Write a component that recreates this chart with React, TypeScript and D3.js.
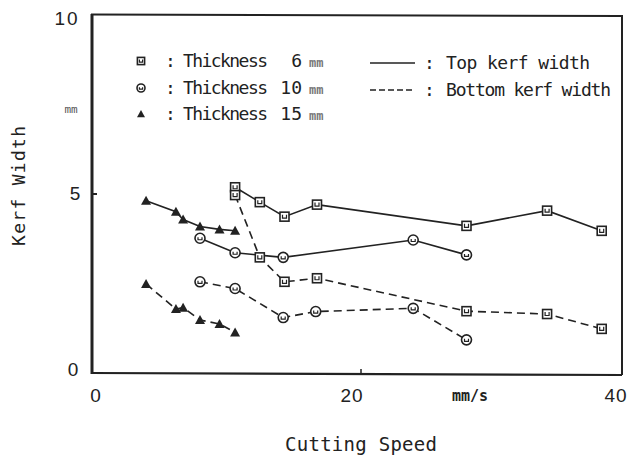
import React, { useRef, useEffect } from "react";
import { select, scaleLinear, line } from "d3";

// values
const speed6 = [10.7, 12.6, 14.5, 17.0, 28.5, 34.7, 38.9];
const top6 = [5.19, 4.77, 4.36, 4.7, 4.1, 4.53, 3.96];
const bottom6 = [4.97, 3.21, 2.52, 2.62, 1.69, 1.61, 1.19];
const speed10Top = [8.0, 10.7, 14.4, 24.4, 28.5];
const top10 = [3.75, 3.34, 3.21, 3.7, 3.28];
const speed10Bottom = [8.0, 10.7, 14.4, 16.9, 24.4, 28.5];
const bottom10 = [2.52, 2.33, 1.51, 1.68, 1.77, 0.88];
const speed15 = [3.85, 6.15, 6.7, 8.0, 9.5, 10.7];
const top15 = [4.81, 4.5, 4.28, 4.08, 4.0, 3.96];
const bottom15 = [2.46, 1.75, 1.79, 1.44, 1.33, 1.09];
const xTicks = [0, 20, 40];
const yTicks = [0, 5, 10];

const legendRows = ["6", "10", "15"];

const W = 627;
const H = 457;
const FONT = "'DejaVu Sans Mono', monospace";
const SANS = "'Liberation Sans', Arial, sans-serif";
const INK = "#222";

const App: React.FC = () => {
  const svgRef = useRef<SVGSVGElement>(null);

  useEffect(() => {
    const svg = select(svgRef.current);
    svg.selectAll("*").remove();

    const x = scaleLinear().domain([0, 40]).range([96, 616]);
    const y = scaleLinear().domain([0, 10]).range([371, 17]);

    // frame
    svg.append("line").attr("x1", 92).attr("x2", 92).attr("y1", 14).attr("y2", 374)
      .attr("stroke", INK).attr("stroke-width", 3);
    svg.append("line").attr("x1", 91).attr("x2", 622).attr("y1", 373).attr("y2", 375)
      .attr("stroke", INK).attr("stroke-width", 2.2);
    svg.append("line").attr("x1", 91).attr("x2", 622).attr("y1", 14.5).attr("y2", 16)
      .attr("stroke", INK).attr("stroke-width", 2);
    svg.append("line").attr("x1", 622).attr("x2", 622).attr("y1", 15).attr("y2", 375)
      .attr("stroke", INK).attr("stroke-width", 2);

    // small inner ticks
    svg.append("line").attr("x1", 92).attr("x2", 97).attr("y1", y(5)).attr("y2", y(5))
      .attr("stroke", INK).attr("stroke-width", 2);
    svg.append("line").attr("x1", x(20) + 5).attr("x2", x(20) + 5).attr("y1", 374).attr("y2", 369)
      .attr("stroke", INK).attr("stroke-width", 1.5);

    // tick labels
    const yl = [{ tx: 74, ty: 376 }, { tx: 76, ty: 200 }, { tx: 67, ty: 25 }];
    yTicks.forEach((v, i) => {
      svg.append("text").attr("x", yl[i].tx).attr("y", yl[i].ty)
        .attr("font-family", SANS).attr("font-size", 19).attr("letter-spacing", 2)
        .attr("fill", INK).attr("text-anchor", "middle").text(v);
    });
    xTicks.forEach((v) => {
      svg.append("text").attr("x", x(v) - (v === 20 ? 4 : 0)).attr("y", 402)
        .attr("font-family", SANS).attr("font-size", 19).attr("letter-spacing", 1)
        .attr("fill", INK).attr("text-anchor", "middle").text(v);
    });

    // units and axis titles
    svg.append("text").attr("x", 71).attr("y", 113).attr("font-family", FONT)
      .attr("font-size", 11).attr("fill", "#555").attr("text-anchor", "middle").text("mm");
    svg.append("text").attr("x", 470).attr("y", 401).attr("font-family", FONT)
      .attr("font-size", 15).attr("font-weight", "bold").attr("fill", INK)
      .attr("text-anchor", "middle").text("mm/s");
    svg.append("text").attr("x", 285).attr("y", 451).attr("font-family", FONT)
      .attr("font-size", 19).attr("fill", INK).attr("textLength", 152)
      .text("Cutting Speed");
    svg.append("text").attr("transform", "translate(25,186) rotate(-90)").attr("font-family", FONT)
      .attr("font-size", 18).attr("fill", INK).attr("text-anchor", "middle")
      .attr("textLength", 120).text("Kerf Width");

    const path = line<[number, number]>().x((d) => x(d[0])).y((d) => y(d[1]));
    const zip = (a: number[], b: number[]) => a.map((v, i) => [v, b[i]] as [number, number]);

    const series = [
      { xs: speed6, ys: top6, dash: null, m: "square" },
      { xs: speed6, ys: bottom6, dash: "8,5", m: "square" },
      { xs: speed10Top, ys: top10, dash: null, m: "circle" },
      { xs: speed10Bottom, ys: bottom10, dash: "8,5", m: "circle" },
      { xs: speed15, ys: top15, dash: null, m: "triangle" },
      { xs: speed15, ys: bottom15, dash: "8,5", m: "triangle" },
    ];

    const drawMarker = (g: any, m: string, cx: number, cy: number, s = 1) => {
      if (m === "square") {
        const h = 4.5 * s;
        g.append("rect").attr("x", cx - h).attr("y", cy - h).attr("width", 2 * h).attr("height", 2 * h)
          .attr("fill", "white").attr("stroke", INK).attr("stroke-width", 1.6);
        g.append("path").attr("d", `M${cx - 2 * s},${cy - 2 * s}V${cy + 1.5 * s}H${cx + 2 * s}V${cy - 2 * s}`)
          .attr("fill", "none").attr("stroke", INK).attr("stroke-width", 1.2);
      } else if (m === "circle") {
        g.append("circle").attr("cx", cx).attr("cy", cy).attr("r", 5 * s)
          .attr("fill", "white").attr("stroke", INK).attr("stroke-width", 1.6);
        g.append("path").attr("d", `M${cx - 2 * s},${cy - 1 * s}V${cy + 1.5 * s}H${cx + 2 * s}V${cy - 1 * s}`)
          .attr("fill", "none").attr("stroke", INK).attr("stroke-width", 1.2);
      } else {
        g.append("path").attr("d", `M${cx},${cy - 5 * s}L${cx + 5 * s},${cy + 4 * s}L${cx - 5 * s},${cy + 4 * s}Z`)
          .attr("fill", INK);
      }
    };

    series.forEach((s) => {
      const pts = zip(s.xs, s.ys);
      svg.append("path").attr("d", path(pts)).attr("fill", "none").attr("stroke", INK)
        .attr("stroke-width", 1.6).attr("stroke-dasharray", s.dash);
    });
    series.forEach((s) => {
      const g = svg.append("g");
      zip(s.xs, s.ys).forEach((p) => drawMarker(g, s.m, x(p[0]), y(p[1])));
    });

    // legend
    const lg = svg.append("g");
    const rowY = [67, 94, 120];
    legendRows.forEach((t, i) => {
      const m = ["square", "circle", "triangle"][i];
      drawMarker(lg, m, 141, rowY[i] - 6, 0.8);
      lg.append("text").attr("x", 165).attr("y", rowY[i]).attr("font-family", FONT)
        .attr("font-size", 18).attr("fill", INK).text(":");
      lg.append("text").attr("x", 183).attr("y", rowY[i]).attr("font-family", FONT)
        .attr("font-size", 18).attr("fill", INK).attr("textLength", 85).text("Thickness");
      lg.append("text").attr("x", 302).attr("y", rowY[i]).attr("font-family", FONT)
        .attr("font-size", 18).attr("fill", INK).attr("text-anchor", "end").text(t);
      lg.append("text").attr("x", 309).attr("y", rowY[i]).attr("font-family", FONT)
        .attr("font-size", 12).attr("font-weight", "bold").attr("fill", "#777").text("mm");
    });
    lg.append("line").attr("x1", 370).attr("x2", 415).attr("y1", 63).attr("y2", 63)
      .attr("stroke", INK).attr("stroke-width", 1.4);
    lg.append("line").attr("x1", 370).attr("x2", 415).attr("y1", 90).attr("y2", 90)
      .attr("stroke", INK).attr("stroke-width", 1.4).attr("stroke-dasharray", "6,3");
    lg.append("text").attr("x", 424).attr("y", 69).attr("font-family", FONT)
      .attr("font-size", 18).attr("fill", INK).text(":");
    lg.append("text").attr("x", 446).attr("y", 69).attr("font-family", FONT)
      .attr("font-size", 18).attr("fill", INK).attr("textLength", 144).text("Top kerf width");
    lg.append("text").attr("x", 424).attr("y", 96).attr("font-family", FONT)
      .attr("font-size", 18).attr("fill", INK).text(":");
    lg.append("text").attr("x", 446).attr("y", 96).attr("font-family", FONT)
      .attr("font-size", 18).attr("fill", INK).attr("textLength", 165).text("Bottom kerf width");
  }, []);

  return (
    <svg ref={svgRef} width={W} height={H}
      style={{ position: "absolute", left: 0, top: 0, background: "white" }} />
  );
};

export default App;
